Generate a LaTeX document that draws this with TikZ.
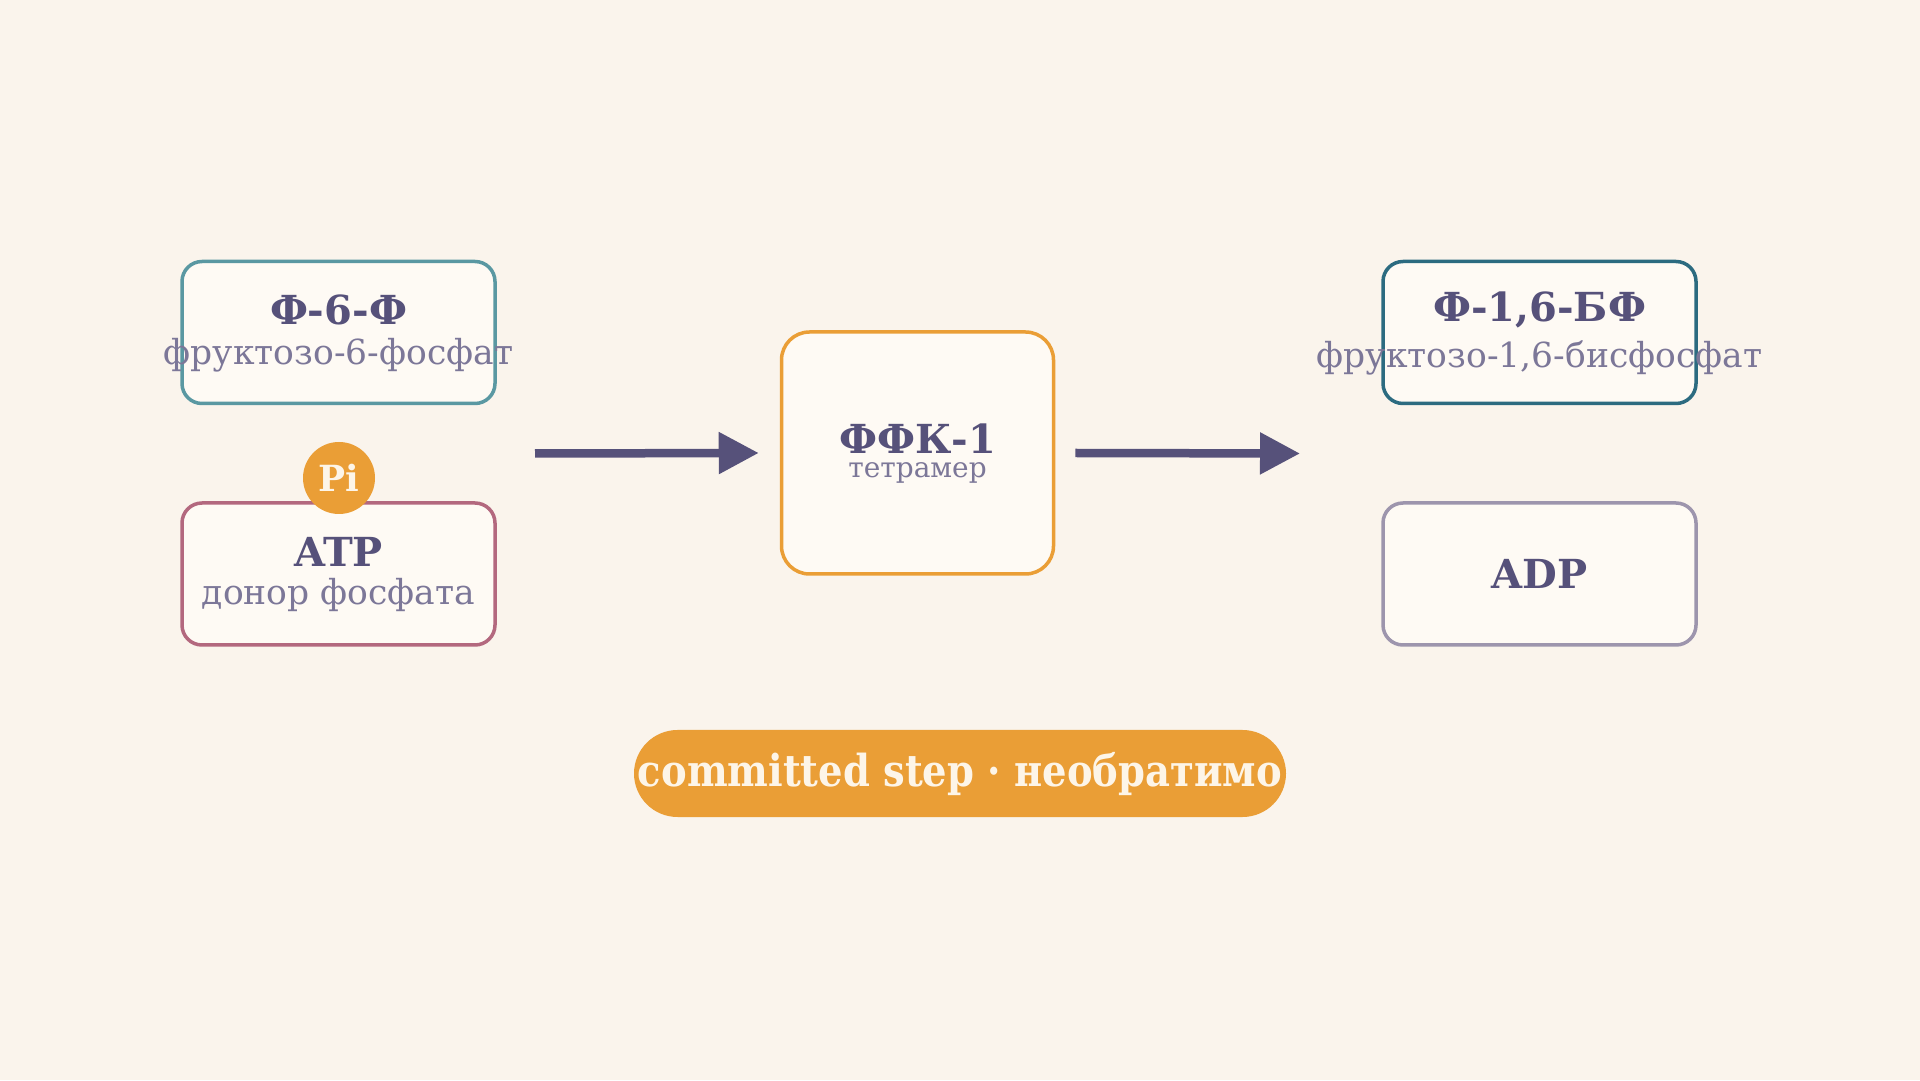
\documentclass[tikz,border=0pt]{standalone}
\usepackage{fontspec}
\setmainfont{DejaVu Serif}
\newfontfamily\pillfont[FakeStretch=0.875]{DejaVu Serif}
\usetikzlibrary{arrows.meta}
\definecolor{bg}{HTML}{FAF4EC}
\definecolor{boxfill}{HTML}{FEFAF4}
\definecolor{ink}{HTML}{56517A}
\definecolor{inklight}{HTML}{7C7798}
\definecolor{teal}{HTML}{5A98A2}
\definecolor{rose}{HTML}{B3687E}
\definecolor{amber}{HTML}{EA9E36}
\definecolor{deepteal}{HTML}{2C6B80}
\definecolor{lavgray}{HTML}{9D95AD}
\definecolor{cream}{HTML}{FDF5E8}
\tikzset{
    box/.style={draw=#1, line width=3.5pt, fill=boxfill, rounded corners=20pt,
        minimum width=313pt, minimum height=142pt, inner sep=0pt},
    title/.style={anchor=base, text=ink, inner sep=0pt, font=\fontsize{40}{48}\selectfont\bfseries},
    sub/.style={anchor=base, text=inklight, inner sep=0pt, font=\fontsize{34.5}{40}\selectfont},
    flow/.style={-{Triangle[length=40pt, width=40pt]}, line width=8.5pt, draw=ink},
}

\begin{document}
\begin{tikzpicture}[x=1pt, y=1pt]
    \fill[bg](0, 0)rectangle(1920, 1080);
    \useasboundingbox(0, 0)rectangle(1920, 1080);
    % substrates
    \node[box=teal](f6p)at(338.5, 747.5){};
    \node[title](f6pT)at([yshift=7.5pt]f6p.center){Ф-6-Ф};
    \node[sub](f6pS)at([yshift=-32.5pt]f6p.center){фруктозо-6-фосфат};
    \node[box=rose](atp)at(338.5, 506){};
    \node[title](atpT)at([yshift=7pt]atp.center){ATP};
    \node[sub](atpS)at([yshift=-31pt]atp.center){донор фосфата};
    \node[circle, fill=amber, minimum size=72pt, inner sep=0pt, text=cream,
        font=\fontsize{36}{40}\selectfont\bfseries](pi)at(339, 602){Pi};
    % enzyme
    \node[box=amber, rounded corners=28pt, minimum width=272pt, minimum height=242pt](pfk)at(917.5, 627){};
    \node[title](pfkT)at([yshift=-1pt]pfk.center){ФФК-1};
    \node[sub, font=\fontsize{28}{32}\selectfont](pfkS)at([yshift=-25pt]pfk.center){тетрамер};
    % products
    \node[box=deepteal](fbp)at(1539.5, 747.5){};
    \node[title](fbpT)at([yshift=10.5pt]fbp.center){Ф-1,6-БФ};
    \node[sub](fbpS)at([yshift=-35.5pt]fbp.center){фруктозо-1,6-бисфосфат};
    \node[box=lavgray, text=ink, font=\fontsize{40}{48}\selectfont\bfseries](adp)at(1539.5, 506){ADP};
    % arrows
    \coordinate(inA)at(535, 626.5);
    \coordinate(outB)at(1300, 626.5);
    \draw[flow](inA)--([xshift=-21pt]pfk.west);
    \draw[flow]([xshift=20pt]pfk.east)--(outB);
    \node[fill=amber, rounded corners=43.5pt, minimum width=652pt, minimum height=87pt, inner sep=0pt,
        text=cream, font=\pillfont\fontsize{44}{50}\selectfont\bfseries](tag)at(960, 306.5){committed step · необратимо};
\end{tikzpicture}
\end{document}
